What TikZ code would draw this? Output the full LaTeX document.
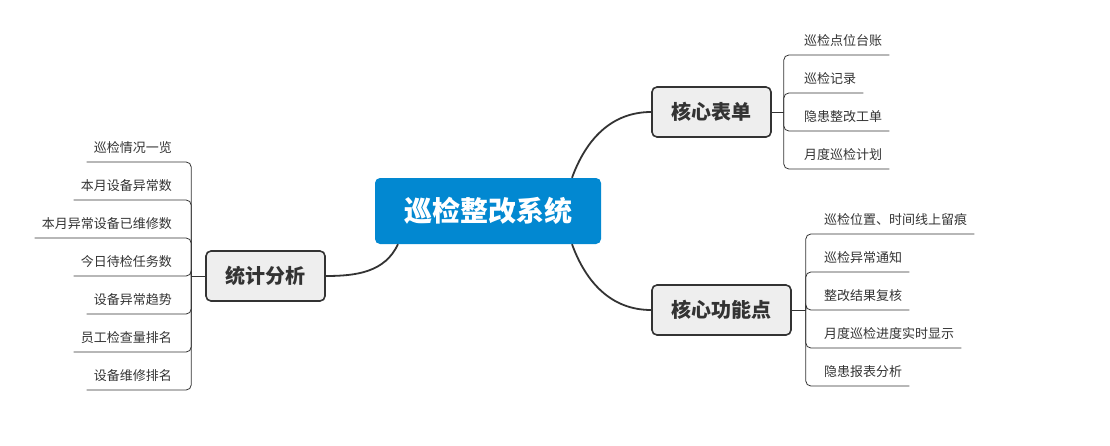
\documentclass[tikz,border=0pt]{standalone}
\usepackage{fontspec}
\setmainfont{Noto Sans CJK SC}
\usetikzlibrary{positioning}
\definecolor{hubblue}{HTML}{0288D1}
\definecolor{topicgray}{HTML}{EEEEEE}
\definecolor{ink}{HTML}{333333}

\begin{document}
\begin{tikzpicture}[x=1pt,
            y=-1pt,
            hub/.style={fill=hubblue, rounded corners=5pt, text=white,
                        font=\bfseries\fontsize{28}{32}\selectfont,
                        minimum width=226pt, minimum height=66pt},
            topic/.style={draw=ink, line width=1.6pt, fill=topicgray,
                        rounded corners=5pt, text=ink,
                        font=\bfseries\fontsize{20}{24}\selectfont,
                        inner xsep=19.5pt, minimum height=50pt},
            leaf/.style={font=\fontsize{13}{15}\selectfont, text=ink,
                        inner xsep=7pt, inner ysep=6pt,
                        text height=10pt, text depth=3pt},
            branch/.style={draw=ink, line width=1.8pt},
            twig/.style={draw=ink, line width=0.8pt, rounded corners=5pt}]

        \useasboundingbox (0,0) rectangle (1110,445);

        \node[hub]   (hub)  at (488,211)   {巡检整改系统};
        \node[topic] (form) at (711.5,112) {核心表单};
        \node[topic] (func) at (721.5,310) {核心功能点};
        \node[topic] (stat) at (265.5,276) {统计分析};

        \coordinate (formj) at ([xshift=12pt]form.east);
        \coordinate (funcj) at ([xshift=14pt]func.east);
        \coordinate (statj) at ([xshift=-14pt]stat.west);

        \path[branch] ([xshift=84pt]hub.north)  edge [out=70,in=180]   (form.west)
                      ([xshift=84pt]hub.south)  edge [out=-70,in=180]  (func.west)
                      ([xshift=-90pt]hub.south) edge [out=-115,in=0]   (stat.east);

        \draw[twig] (form.east) -- (formj);
        \draw[twig] (func.east) -- (funcj);
        \draw[twig] (stat.west) -- (statj);

        \foreach \txt [count=\i] in {巡检点位台账,巡检记录,隐患整改工单,月度巡检计划} {
            \pgfmathsetmacro\y{112+(\i-2.5)*38}
            \node[leaf, anchor=south west] (form-\i) at (797,\y) {\txt};
            \draw[twig] (formj) |- (form-\i.south east);
        }

        \foreach \txt [count=\i] in {巡检位置、时间线上留痕,巡检异常通知,整改结果复核,月度巡检进度实时显示,隐患报表分析} {
            \pgfmathsetmacro\y{310+(\i-3)*38}
            \node[leaf, anchor=south west] (func-\i) at (817,\y) {\txt};
            \draw[twig] (funcj) |- (func-\i.south east);
        }

        \foreach \txt [count=\i] in {巡检情况一览,本月设备异常数,本月异常设备已维修数,今日待检任务数,设备异常趋势,员工检查量排名,设备维修排名} {
            \pgfmathsetmacro\y{276+(\i-4)*38}
            \node[leaf, anchor=south east] (stat-\i) at (179,\y) {\txt};
            \draw[twig] (statj) |- (stat-\i.south west);
        }

    \end{tikzpicture}
\end{document}
